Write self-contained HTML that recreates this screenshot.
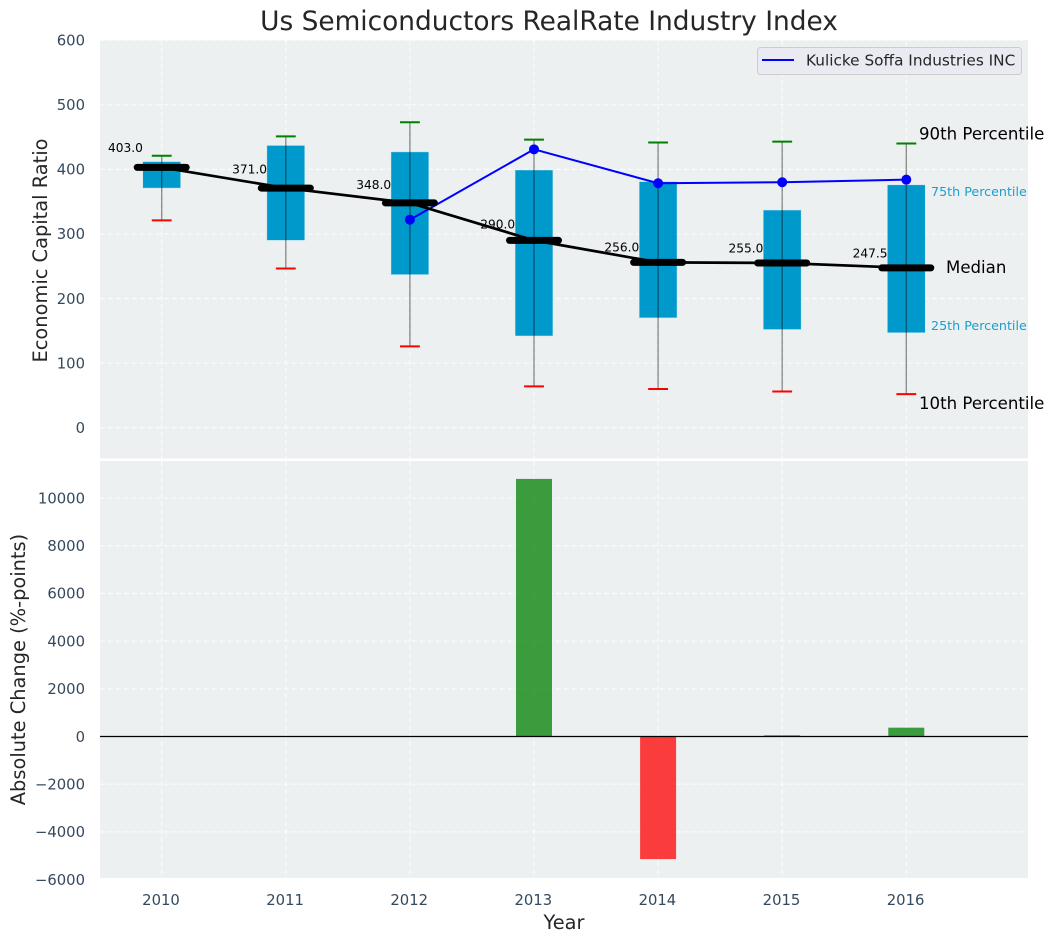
<!DOCTYPE html>
<html lang="en">
<head>
<meta charset="utf-8">
<title>Us Semiconductors RealRate Industry Index</title>
<style>
html,body{margin:0;padding:0;background:#fff;width:1054px;height:942px;overflow:hidden}
svg{display:block}
text{font-family:"DejaVu Sans","Liberation Sans",sans-serif}
</style>
</head>
<body>
<svg id="chart" xmlns="http://www.w3.org/2000/svg" width="1054" height="942" viewBox="0 0 1054 942">
  <rect x="0" y="0" width="1054" height="942" fill="#ffffff"/>
  <text x="549" y="30" font-size="26.4" text-anchor="middle" fill="#262626">Us Semiconductors RealRate Industry Index</text>
  <text transform="translate(47,250.5) rotate(-90)" font-size="19.4" text-anchor="middle" fill="#262626">Economic Capital Ratio</text>
  <text transform="translate(25,669.5) rotate(-90)" font-size="19.4" text-anchor="middle" fill="#262626">Absolute Change (%-points)</text>
  <text x="564" y="929" font-size="19.4" text-anchor="middle" fill="#262626">Year</text>
  <g id="top-layer"></g>
  <g id="bottom-layer"></g>
  <g>
    <rect x="757.5" y="47.5" width="264" height="27" rx="3" fill="#eaeaf2" fill-opacity="0.9" stroke="#cccccc" stroke-width="1"/>
    <line x1="762" y1="60" x2="794" y2="60" stroke="#0000ff" stroke-width="2"/>
    <text x="806" y="65.5" font-size="15.3" fill="#262626">Kulicke Soffa Industries INC</text>
  </g>
  <g>
    <text x="919" y="139.5" font-size="16.6" fill="#000000">90th Percentile</text>
    <text x="931" y="196" font-size="12.7" fill="#1a9fce">75th Percentile</text>
    <text x="946" y="273" font-size="16.6" fill="#000000">Median</text>
    <text x="931" y="330" font-size="12.7" fill="#1a9fce">25th Percentile</text>
    <text x="919" y="409" font-size="16.6" fill="#000000">10th Percentile</text>
  </g>
</svg>
<script>
const years = [2010, 2011, 2012, 2013, 2014, 2015, 2016];
const p90 = [421, 451, 473, 446, 441.5, 443, 440];
const p75 = [412, 437, 427, 399, 381, 337, 376];
const medians = [403, 371, 348, 290, 256, 255, 247.5];
const medianLabels = ["403.0", "371.0", "348.0", "290.0", "256.0", "255.0", "247.5"];
const p25 = [371, 290, 237, 142, 170, 152, 147];
const p10 = [321, 246.5, 126, 64, 60, 56, 52];
const companyYears = [2012, 2013, 2014, 2015, 2016];
const companyValues = [322, 431, 378.5, 380, 384];
const changeYears = [2013, 2014, 2015, 2016];
const changeValues = [10800, -5140, 50, 370];
const topTicks = [0, 100, 200, 300, 400, 500, 600];
const topTickLabels = ["0", "100", "200", "300", "400", "500", "600"];
const bottomTicks = [-6000, -4000, -2000, 0, 2000, 4000, 6000, 8000, 10000];
const bottomTickLabels = ["\u22126000", "\u22124000", "\u22122000", "0", "2000", "4000", "6000", "8000", "10000"];

const NS = "http://www.w3.org/2000/svg";
const LEFT = 100, RIGHT = 1028, TOP1 = 40, BOT1 = 458.5, TOP2 = 461, BOT2 = 878;
const xS = v => 161.7 + (v - 2010) * 124.1;
const yTop = v => 427.7 - v * 0.6459;
const yBot = v => 736.5 - v * 0.02385;
const unitX = xS(2011) - xS(2010);
const topLayer = document.getElementById("top-layer");
const bottomLayer = document.getElementById("bottom-layer");

function mk(parent, tag, attrs, text) {
  const el = document.createElementNS(NS, tag);
  for (const k in attrs) el.setAttribute(k, attrs[k]);
  if (text !== undefined) el.textContent = text;
  parent.appendChild(el);
  return el;
}
function gridLine(parent, x1, y1, x2, y2) {
  const el = mk(parent, "line", {x1, y1, x2, y2, stroke: "#ffffff", "stroke-width": 1.1, "stroke-dasharray": "5 3", "stroke-opacity": 0.8});
  
  
}

/* panel backgrounds */
const bg1 = mk(topLayer, "rect", {x: LEFT, y: TOP1, width: RIGHT - LEFT, height: BOT1 - TOP1, fill: "#ecf0f1"});


const bg2 = mk(bottomLayer, "rect", {x: LEFT, y: TOP2, width: RIGHT - LEFT, height: BOT2 - TOP2, fill: "#ecf0f1"});



/* grid + ticks */
years.forEach(y => {
  gridLine(topLayer, xS(y), TOP1, xS(y), BOT1);
  gridLine(bottomLayer, xS(y), TOP2, xS(y), BOT2);
  const t = mk(bottomLayer, "text", {x: xS(y) - 0.7, y: 905, "font-size": 14.8, "text-anchor": "middle", fill: "#34495e"}, String(y));
  
  
});
topTicks.forEach((v, i) => {
  gridLine(topLayer, LEFT, yTop(v), RIGHT, yTop(v));
  const t = mk(topLayer, "text", {x: 85, y: yTop(v) + 5.3, "font-size": 14.8, "text-anchor": "end", fill: "#34495e"}, topTickLabels[i]);
  
  
});
bottomTicks.forEach((v, i) => {
  if (yBot(v) < BOT2) gridLine(bottomLayer, LEFT, yBot(v), RIGHT, yBot(v));
  const t = mk(bottomLayer, "text", {x: 85, y: yBot(v) + 5.3, "font-size": 14.8, "text-anchor": "end", fill: "#34495e"}, bottomTickLabels[i]);
  
  
});

/* boxes */
const boxW = 0.305 * unitX, capW = 0.16 * unitX, medW = 0.395 * unitX;
years.forEach((y, i) => {
  const box = mk(topLayer, "rect", {x: xS(y) - boxW / 2, y: yTop(p75[i]), width: boxW, height: yTop(p25[i]) - yTop(p75[i]), fill: "#0099cc", stroke: "#cfe9f2", "stroke-width": 0.5});
  
  
  const wh = mk(topLayer, "line", {x1: xS(y), y1: yTop(p90[i]), x2: xS(y), y2: yTop(p10[i]), stroke: "#000000", "stroke-opacity": 0.42, "stroke-width": 1.4});
  
  
  const capHi = mk(topLayer, "line", {x1: xS(y) - capW / 2, y1: yTop(p90[i]), x2: xS(y) + capW / 2, y2: yTop(p90[i]), stroke: "#008000", "stroke-width": 2});
  
  
  const capLo = mk(topLayer, "line", {x1: xS(y) - capW / 2, y1: yTop(p10[i]), x2: xS(y) + capW / 2, y2: yTop(p10[i]), stroke: "#ff0000", "stroke-width": 2});
  
  
});

/* company line */
const coPts = companyYears.map((y, i) => xS(y) + "," + yTop(companyValues[i])).join(" ");
const coLine = mk(topLayer, "polyline", {points: coPts, fill: "none", stroke: "#0000ff", "stroke-width": 2});


companyYears.forEach((y, i) => {
  const d = mk(topLayer, "circle", {cx: xS(y), cy: yTop(companyValues[i]), r: 5, fill: "#0000ff"});
  
  
});

/* median line + bars */
const medPts = years.map((y, i) => xS(y) + "," + yTop(medians[i])).join(" ");
const medLine = mk(topLayer, "polyline", {points: medPts, fill: "none", stroke: "#000000", "stroke-width": 2.7});


years.forEach((y, i) => {
  const m = mk(topLayer, "line", {x1: xS(y) - medW / 2, y1: yTop(medians[i]), x2: xS(y) + medW / 2, y2: yTop(medians[i]), stroke: "#000000", "stroke-width": 7, "stroke-linecap": "round"});
  
  
  const t = mk(topLayer, "text", {x: xS(y) - 18.8, y: yTop(medians[i] * 1.05) - 2.5, "font-size": 12.2, "text-anchor": "end", fill: "#000000"}, medianLabels[i]);
  
  
});

/* change bars */
const barW = 0.29 * unitX;
changeYears.forEach((y, i) => {
  const v = changeValues[i];
  const top = Math.min(yBot(v), yBot(0));
  const b = mk(bottomLayer, "rect", {x: xS(y) - barW / 2, y: top, width: barW, height: Math.abs(yBot(v) - yBot(0)), fill: v >= 0 ? "#008000" : "#ff0000", "fill-opacity": 0.75});
  
  
});
const zero = mk(bottomLayer, "line", {x1: LEFT, y1: yBot(0), x2: RIGHT, y2: yBot(0), stroke: "#000000", "stroke-width": 1.2});


</script>
</body>
</html>
